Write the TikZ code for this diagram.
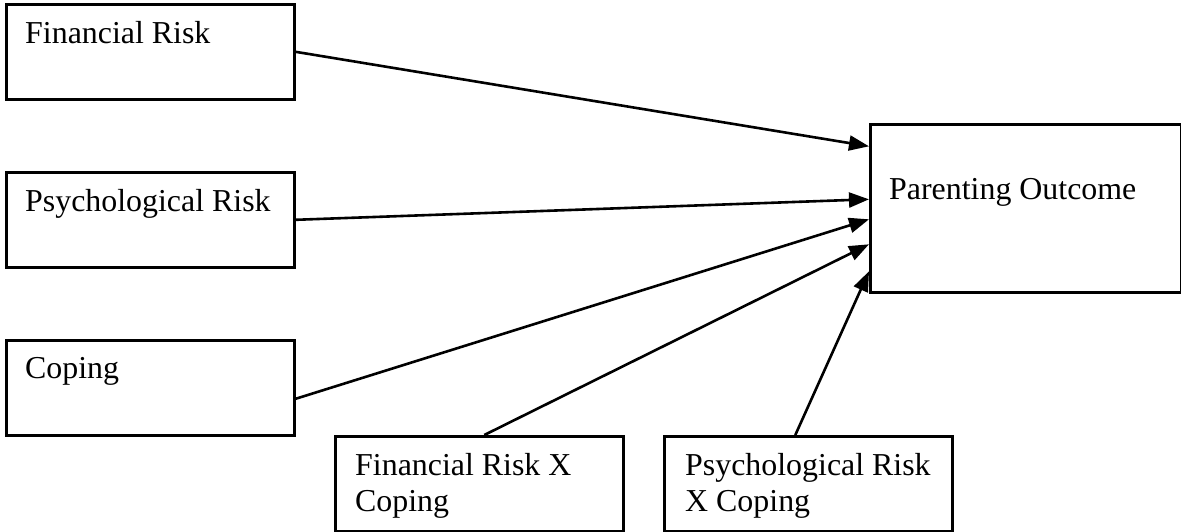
\documentclass[tikz,border=0pt]{standalone}
\usepackage{fontspec}
\setmainfont{Liberation Serif}
\usetikzlibrary{arrows.meta,calc}
\begin{document}
\begin{tikzpicture}[x=1pt,y=-1pt,
  box/.style={draw=black,line width=2.6pt,rectangle,anchor=north west,inner sep=0pt},
  smallbox/.style={box,minimum width=288pt,minimum height=95pt},
  lbl/.style={anchor=base west,inner sep=0pt,align=left,
    font=\fontsize{31.9pt}{36pt}\selectfont},
  link/.style={line width=2.6pt,-{Triangle[length=20pt,width=15pt]}}]
  \useasboundingbox (0,0) rectangle (1181,531);

  % boxes
  \node[smallbox] (fr) at (5,3) {};
  \node[smallbox] (pr) at (5,171) {};
  \node[smallbox] (cp) at (5,339) {};
  \node[smallbox] (frc) at (334,435) {};
  \node[smallbox] (prc) at (663,435) {};
  \node[box,minimum width=311pt,minimum height=168pt] (po) at (869,123) {};

  % labels (base anchor of a two-line label sits on its last line)
  \node[lbl] (frt) at (25,43) {Financial Risk};
  \node[lbl] (prt) at (25,211) {Psychological Risk};
  \node[lbl] (cpt) at (25,378) {Coping};
  \node[lbl] (frct) at (355,511) {Financial Risk X\\Coping};
  \node[lbl] (prct) at (685,511) {Psychological Risk\\X Coping};
  \node[lbl] (pot) at (889,199) {Parenting Outcome};

  % paths into the outcome
  \draw[link] (fr.east) -- ($(po.west)+(0,-62)$);
  \draw[link] (pr.east) -- ($(po.west)+(0,-9)$);
  \draw[link] ($(cp.east)+(0,11)$) -- ($(po.west)+(0,11)$);
  \draw[link] ($(frc.north)+(5,0)$) -- ($(po.west)+(0,36)$);
  \draw[link] ($(prc.north)+(-13,0)$) -- ($(po.west)+(0,63)$);
\end{tikzpicture}
\end{document}
